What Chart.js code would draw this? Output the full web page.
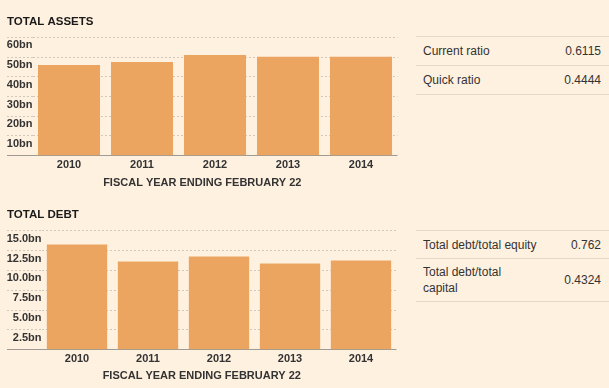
<!DOCTYPE html>
<html><head><meta charset="utf-8">
<script src="https://cdn.jsdelivr.net/npm/chart.js@4"></script>
<style>
html,body{margin:0;padding:0;background:#fff1e0;width:609px;height:388px;overflow:hidden;font-family:"Liberation Sans",Arial,sans-serif;}
canvas{position:absolute;left:0;}
#c1{top:0}
#c2{top:194px}
.panel{position:absolute;left:416px;width:193px;color:#333;font-size:12px;line-height:16px;}
.row{display:flex;justify-content:space-between;align-items:center;border-top:1px solid #e6d8c6;padding:0 8px 0 7px;box-sizing:content-box;}
.row:last-child{border-bottom:1px solid #e6d8c6;}
.lab{max-width:116px;}
</style></head><body>
<canvas id="c1" width="404" height="194"></canvas>
<canvas id="c2" width="404" height="194"></canvas>
<div class="panel" id="p1" style="top:36px"></div>
<div class="panel" id="p2" style="top:230px"></div>
<script>
const years = ['2010', '2011', '2012', '2013', '2014'];
const totalAssetsBn = [46.0, 47.5, 51.0, 50.2, 50.2];
const totalDebtBn = [13.28, 11.13, 11.77, 10.88, 11.26];
const assetTickValues = [0, 10, 20, 30, 40, 50, 60];
const debtTickValues = [0, 2.5, 5, 7.5, 10, 12.5, 15];
const xAxisTitle = 'FISCAL YEAR ENDING FEBRUARY 22';
const liquidityLabels = ['Current ratio', 'Quick ratio'];
const liquidityValues = ['0.6115', '0.4444'];
const leverageLabels = ['Total debt/total equity', 'Total debt/total capital'];
const leverageValues = ['0.762', '0.4324'];

const BAR = '#eba560';
const GRID = '#cfc8bd';
const BASE = '#a09a94';
Chart.defaults.font.family = '"Liberation Sans", Arial, sans-serif';

function makeChart(id, title, values, ticks, decimals, yWidth, rightPad, titlePad, subPad) {
  const isZero = ctx => ctx.tick && ctx.tick.value === 0;
  return new Chart(document.getElementById(id), {
    type: 'bar',
    data: { labels: years, datasets: [{ data: values, backgroundColor: BAR, borderWidth: 0, barPercentage: 0.85, categoryPercentage: 1 }] },
    options: {
      responsive: false, animation: false, devicePixelRatio: 1,
      layout: { padding: { left: 7, right: rightPad, top: 0, bottom: 0 } },
      plugins: {
        legend: { display: false }, tooltip: { enabled: false },
        title: { display: true, text: title, align: 'start', color: '#1a1a1a', font: { size: 11.5, weight: 'bold' }, padding: titlePad },
        subtitle: { display: true, position: 'bottom', text: xAxisTitle, color: '#333', font: { size: 11, weight: 'bold' }, padding: subPad }
      },
      scales: {
        x: {
          grid: { display: false, drawTicks: false }, border: { display: false },
          ticks: { color: '#333', font: { size: 11, weight: 'bold' }, padding: 3 }
        },
        y: {
          min: ticks[0], max: ticks[ticks.length - 1],
          afterBuildTicks: s => { s.ticks = ticks.map(v => ({ value: v })); },
          afterFit: s => { s.width = yWidth; },
          ticks: {
            color: '#333', font: { size: 11, weight: 'bold' }, padding: -yWidth, labelOffset: 8,
            callback: v => v === 0 ? '' : v.toFixed(decimals) + 'bn'
          },
          grid: {
            color: c => isZero(c) ? BASE : GRID, tickColor: c => isZero(c) ? BASE : GRID,
            tickLength: yWidth, lineWidth: 1,
            tickBorderDash: c => isZero(c) ? [] : [2, 2]
          },
          border: { display: false, dash: c => isZero(c) ? [] : [2, 2] }
        }
      }
    }
  });
}

makeChart('c1', 'TOTAL ASSETS', totalAssetsBn, assetTickValues, 0, 25.5, 6.5, { top: 14.5, bottom: 9 }, { top: 1, bottom: 4.9 });
makeChart('c2', 'TOTAL DEBT', totalDebtBn, debtTickValues, 1, 34.5, 7.5, { top: 14, bottom: 9 }, { top: 0.5, bottom: 5.3 });

function makePanel(id, labels, values, heights) {
  const p = document.getElementById(id);
  labels.forEach((l, i) => {
    const r = document.createElement('div');
    r.className = 'row';
    r.style.height = heights[i] + 'px';
    const a = document.createElement('div'); a.className = 'lab'; a.textContent = l;
    const b = document.createElement('div'); b.textContent = values[i];
    r.appendChild(a); r.appendChild(b); p.appendChild(r);
  });
}
makePanel('p1', liquidityLabels, liquidityValues, [28, 28]);
makePanel('p2', leverageLabels, leverageValues, [27, 42]);
</script>
</body></html>
